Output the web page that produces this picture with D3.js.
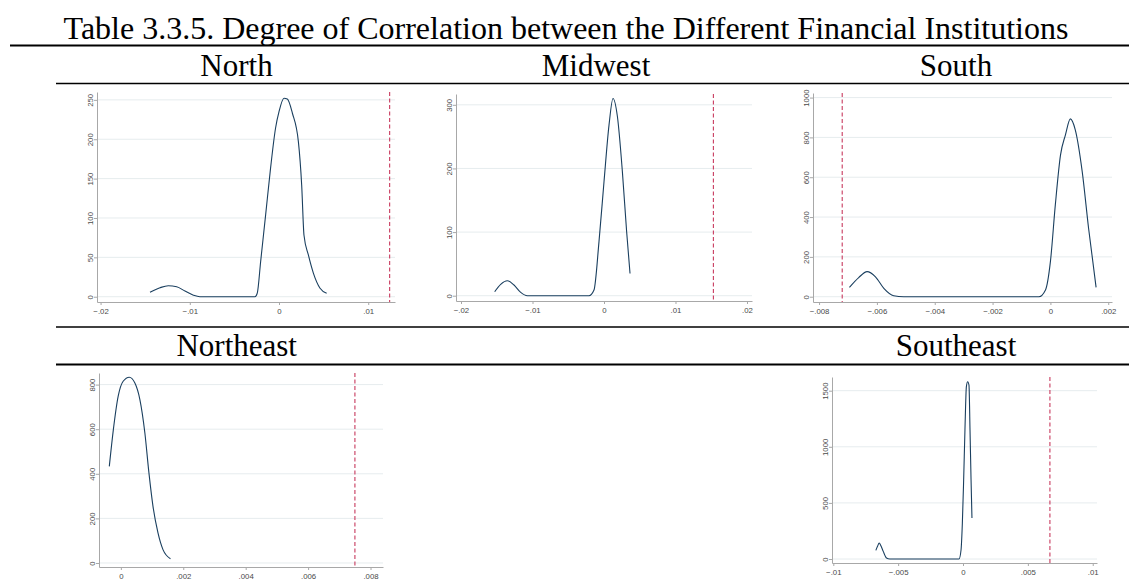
<!DOCTYPE html>
<html><head><meta charset="utf-8">
<script src="https://cdn.jsdelivr.net/npm/d3@7"></script>
<style>body{margin:0;background:#fff}</style>
</head><body><svg id="c" width="1129" height="582"></svg>
<script>
// ---------- DATA ----------
const titleText = "Table 3.3.5. Degree of Correlation between the Different Financial Institutions";
const regions = ["North", "Midwest", "South", "Northeast", "Southeast"];

const northX = [-0.01446,-0.01334,-0.01241,-0.01147,-0.01054,-0.0096,-0.00886,-0.00269,-0.00243,-0.00206,-0.0015,-0.00095,-0.00039,0.0000,0.00056,0.00093,0.0015,0.00217,0.00254,0.0028,0.00329,0.00385,0.0046,0.00534];
const northY = [5.6,11.4,14,12.7,7.2,2,0,0,5,44.5,104,163,214,235,252,251,233,197,142,78,53,30,10.7,4.3];

const midwestX = [-0.01529,-0.01445,-0.01352,-0.01259,-0.01165,-0.01072,-0.0021,-0.0014,-0.0007,0,0.0007,0.00126,0.00187,0.00257,0.00317,0.00364];
const midwestY = [6.3,17.9,23.6,16.8,5.3,0,0,9,85,179,268,310,282,195,100,35];

const southX = [-0.00695,-0.00663,-0.00634,-0.00605,-0.00576,-0.00542,-0.00507,-0.0004,-0.00017,0,0.00017,0.00035,0.00052,0.00069,0.00086,0.0011,0.00132,0.00158];
const southY = [47,96,126,100,42,5,0,0,34,176,461,712,813,893,838,628,344,47];

const northeastX = [-0.00037,-0.00024,-0.000085,0.000074,0.00027,0.00045,0.00061,0.00077,0.0009,0.00103,0.00119,0.00135,0.00159];
const northeastY = [433,598,748,815,833,807,733,583,404,254,135,60,19];

const southeastX = [-0.00672,-0.00659,-0.00646,-0.00633,-0.00615,-0.0059,-0.00564,-0.00031,-0.00015,-0.00005,0.00005,0.00015,0.00026,0.00036,0.00046,0.00054,0.00062,0.00069];
const southeastY = [77,113,142,119,68,9,0,0,83,320,706,1150,1536,1580,1550,1150,706,365];

const refLines = [0.0124, 0.0153, -0.0072, 0.0075, 0.0067];

const northXTicks = [-0.02, -0.01, 0, 0.01];
const northYTicks = [0, 50, 100, 150, 200, 250];
const midwestXTicks = [-0.02, -0.01, 0, 0.01, 0.02];
const midwestYTicks = [0, 100, 200, 300];
const southXTicks = [-0.008, -0.006, -0.004, -0.002, 0, 0.002];
const southYTicks = [0, 200, 400, 600, 800, 1000];
const northeastXTicks = [0, 0.002, 0.004, 0.006, 0.008];
const northeastYTicks = [0, 200, 400, 600, 800];
const southeastXTicks = [-0.01, -0.005, 0, 0.005, 0.01];
const southeastYTicks = [0, 500, 1000, 1500];

// ---------- LAYOUT ----------
const series = [
  {x: northX, y: northY, xt: northXTicks, yt: northYTicks},
  {x: midwestX, y: midwestY, xt: midwestXTicks, yt: midwestYTicks},
  {x: southX, y: southY, xt: southXTicks, yt: southYTicks},
  {x: northeastX, y: northeastY, xt: northeastXTicks, yt: northeastYTicks},
  {x: southeastX, y: southeastY, xt: southeastXTicks, yt: southeastYTicks}
];
const boxes = [
  {l: 97,  r: 395,  t: 92,  b: 302, xd: [-0.0204, 0.0130],   yd: [-6.7, 260],  hx: 236.5, hy: 75.5},
  {l: 456, r: 752,  t: 94,  b: 301, xd: [-0.0207, 0.0207],   yd: [-8.3, 317],  hx: 596,   hy: 75.5},
  {l: 813, r: 1112, t: 93,  b: 302, xd: [-0.00821, 0.00213], yd: [-26.6, 1023],hx: 956,   hy: 75.5},
  {l: 99,  r: 383,  t: 373, b: 567, xd: [-0.0007, 0.0084],   yd: [-18, 852],   hx: 236.7, hy: 356},
  {l: 832, r: 1097, t: 377, b: 563, xd: [-0.0101, 0.01033],  yd: [-35.6, 1622],hx: 956,   hy: 356}
];

const svg = d3.select("#c");
const serif = "'Liberation Serif','Times New Roman',serif";
const sans = "'Liberation Sans',Arial,sans-serif";

svg.append("text").attr("x", 566).attr("y", 39).attr("text-anchor", "middle")
  .style("font-family", serif).style("font-size", "32px").text(titleText);

function hline(x1, x2, y, w) {
  svg.append("line").attr("x1", x1).attr("x2", x2).attr("y1", y).attr("y2", y)
    .attr("stroke", "#000").attr("stroke-width", w);
}
hline(10, 1129, 45.5, 2);
hline(56, 1129, 83.5, 1.6);
hline(56, 1129, 327, 1.6);
hline(56, 1129, 364.5, 2);

const fmtX = d => d === 0 ? "0" : d3.format(".3~f")(d).replace("0.", ".");
const fmtY = d3.format("d");

series.forEach((s, i) => {
  const b = boxes[i];
  svg.append("text").attr("x", b.hx).attr("y", b.hy).attr("text-anchor", "middle")
    .style("font-family", serif).style("font-size", "31px").text(regions[i]);

  const xs = d3.scaleLinear().domain(b.xd).range([b.l, b.r]);
  const ys = d3.scaleLinear().domain(b.yd).range([b.b, b.t]);
  const g = svg.append("g");

  // gridlines
  g.selectAll("line.grid").data(s.yt).join("line")
    .attr("x1", b.l).attr("x2", b.r)
    .attr("y1", d => ys(d)).attr("y2", d => ys(d))
    .attr("stroke", "#e6ecee").attr("stroke-width", 1);

  // x axis
  const xa = g.append("g").attr("transform", `translate(0,${b.b})`)
    .call(d3.axisBottom(xs).tickValues(s.xt).tickFormat(fmtX).tickSize(3).tickSizeOuter(0));
  xa.select(".domain").attr("stroke", "#a8a8a8");
  xa.selectAll(".tick line").attr("stroke", "#a8a8a8");
  xa.selectAll("text").attr("fill", "#4a4a4a").attr("y", 6)
    .style("font-family", sans).style("font-size", "7.8px");

  // y axis
  const ya = g.append("g").attr("transform", `translate(${b.l},0)`)
    .call(d3.axisLeft(ys).tickValues(s.yt).tickFormat(fmtY).tickSize(3).tickSizeOuter(0));
  ya.select(".domain").attr("stroke", "#a8a8a8");
  ya.selectAll(".tick line").attr("stroke", "#a8a8a8");
  ya.selectAll("text").attr("fill", "#4a4a4a")
    .attr("x", 0).attr("y", -4.5).attr("dy", 0)
    .attr("transform", "rotate(-90)").attr("text-anchor", "middle")
    .style("font-family", sans).style("font-size", "7.8px");

  // reference line
  g.append("line").attr("x1", xs(refLines[i])).attr("x2", xs(refLines[i]))
    .attr("y1", b.t).attr("y2", b.b)
    .attr("stroke", "#c83a5e").attr("stroke-width", 1.1).attr("stroke-dasharray", "4,2.5");

  // density curve
  const pts = s.x.map((v, k) => [v, s.y[k]]);
  g.append("path").datum(pts)
    .attr("d", d3.line().x(d => xs(d[0])).y(d => ys(d[1])).curve(d3.curveMonotoneX))
    .attr("fill", "none").attr("stroke", "#1a3f5f").attr("stroke-width", 1.1);
});
</script></body></html>
